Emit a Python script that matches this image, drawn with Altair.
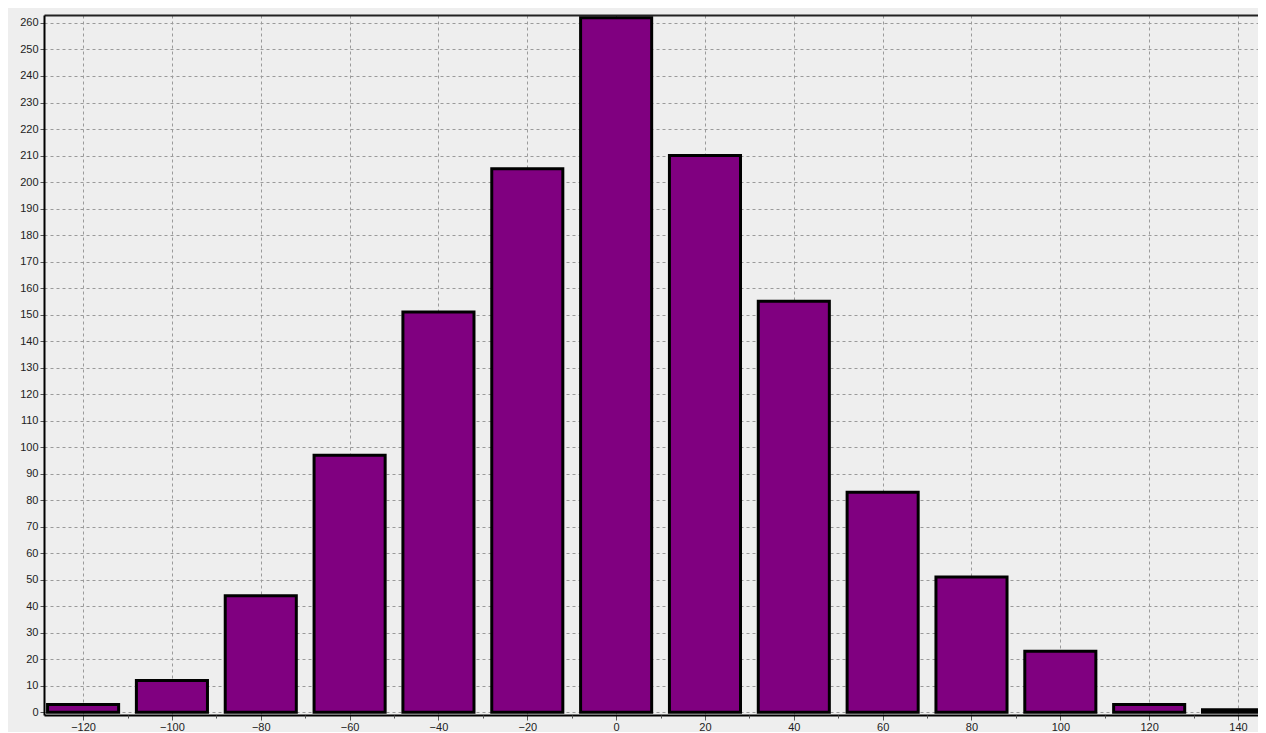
import altair as alt
import pandas as pd

centers = [-120, -100, -80, -60, -40, -20, 0, 20, 40, 60, 80, 100, 120, 140]
counts = [3, 12, 44, 97, 151, 205, 262, 210, 155, 83, 51, 23, 3, 1]
half_width = 8
x_major = list(range(-120, 141, 20))
x_minor = list(range(-110, 141, 20))
y_ticks = list(range(0, 261, 10))

df = pd.DataFrame({
    "center": centers,
    "count": counts,
})
df["lo"] = df["center"] - half_width
df["hi"] = df["center"] + half_width

xscale = alt.Scale(domain=[-128.8, 144.5], nice=False, zero=False)
yscale = alt.Scale(domain=[-1, 263], nice=False, zero=False)
FONT = "Liberation Sans"

bars = alt.Chart(df).mark_bar(
    fill="#800080", stroke="black", strokeWidth=3, strokeJoin="miter", clip=True
).encode(
    x=alt.X("lo:Q", scale=xscale, axis=alt.Axis(
        values=x_major, title=None, grid=True, gridColor="#9a9a9a",
        gridDash=[3, 3], gridWidth=1, domainColor="black", domainWidth=2,
        tickColor="#555", tickSize=5, labelFont=FONT, labelFontSize=11,
        labelColor="#222", labelPadding=1, orient="bottom")),
    x2="hi:Q",
    y=alt.Y("count:Q", scale=yscale, axis=alt.Axis(
        values=y_ticks, title=None, grid=True, gridColor="#9a9a9a",
        gridDash=[3, 3], gridWidth=1, domainColor="black", domainWidth=2,
        tickColor="#555", tickSize=4, labelFont=FONT, labelFontSize=11,
        labelColor="#222", labelPadding=2)),
    y2=alt.datum(0),
)

minor = alt.Chart(df).mark_point(opacity=0).encode(
    x=alt.X("center:Q", scale=xscale, axis=alt.Axis(
        values=x_minor, title=None, grid=False, labels=False, domain=False,
        tickColor="#555", tickSize=3, orient="bottom")),
)

top = alt.Chart(df).mark_point(opacity=0).encode(
    x=alt.X("center:Q", scale=xscale, axis=alt.Axis(
        title=None, grid=False, labels=False, ticks=False, domain=True,
        domainColor="#222", domainWidth=2, orient="top")),
)

chart = alt.layer(bars, minor, top).resolve_axis(x="independent").properties(
    width=1214,
    height=700,
    background="#eeeeee",
    padding={"left": 36, "top": 7, "right": 0, "bottom": 17},
    autosize=alt.AutoSizeParams(type="none"),
).configure_view(stroke=None, fill="#eeeeee")

chart.save("out.html", embed_options={"renderer": "svg", "actions": False})
